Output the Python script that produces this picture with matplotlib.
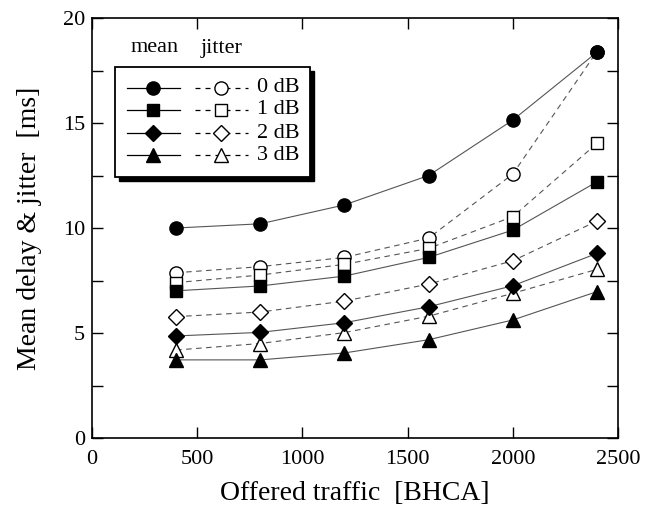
import matplotlib
matplotlib.use("Agg")
import matplotlib.pyplot as plt
from matplotlib.ticker import MultipleLocator
from matplotlib.patches import Rectangle
from matplotlib.lines import Line2D

plt.rcParams['font.family'] = ['Liberation Serif', 'DejaVu Serif']

traffic = [400, 800, 1200, 1600, 2000, 2400]
labels = ['0 dB', '1 dB', '2 dB', '3 dB']
mean_0 = [10.0, 10.2, 11.1, 12.5, 15.14, 18.37]
mean_1 = [7.01, 7.24, 7.71, 8.6, 9.9, 12.2]
mean_2 = [4.86, 5.03, 5.49, 6.25, 7.25, 8.79]
mean_3 = [3.72, 3.72, 4.05, 4.68, 5.62, 6.97]
jit_0 = [7.87, 8.16, 8.6, 9.52, 12.57, 18.4]
jit_1 = [7.4, 7.76, 8.27, 9.03, 10.54, 14.03]
jit_2 = [5.78, 6.0, 6.52, 7.33, 8.44, 10.33]
jit_3 = [4.19, 4.5, 5.02, 5.8, 6.89, 8.03]

means = [mean_0, mean_1, mean_2, mean_3]
jits = [jit_0, jit_1, jit_2, jit_3]
markers = ['o', 's', 'D', '^']
msizes = [9.5, 8.5, 8.0, 10.0]
line_col = '#555555'

fig = plt.figure(figsize=(6.56, 5.05), dpi=100)
ax = fig.add_axes([92/656, 67/505, 526/656, 420/505])

for m, j, mk, ms in zip(means, jits, markers, msizes):
    ax.plot(traffic, j, color=line_col, lw=0.8, ls=(0, (5, 4)), marker=mk,
            ms=ms, mfc='white', mec='black', mew=1.0, zorder=3)
    ax.plot(traffic, m, color=line_col, lw=0.8, ls='-', marker=mk,
            ms=ms, mfc='black', mec='black', mew=1.0, zorder=4)

ax.set_xlim(0, 2500)
ax.set_ylim(0, 20)
ax.xaxis.set_major_locator(MultipleLocator(500))
ax.yaxis.set_major_locator(MultipleLocator(5))
ax.yaxis.set_minor_locator(MultipleLocator(2.5))
ax.tick_params(which='both', direction='in', top=True, right=True,
               length=8, width=1.0, labelsize=16)
ax.tick_params(axis='x', pad=9)
ax.tick_params(axis='y', pad=5)
for s in ax.spines.values():
    s.set_linewidth(1.2)

ax.set_xlabel('Offered traffic  [BHCA]', fontsize=20, labelpad=8)
ax.set_ylabel('Mean delay & jitter  [ms]', fontsize=20, labelpad=15)

# legend drawn manually
def fx(px):
    return (px - 92) / 526
def fy(py):
    return (438 - py) / 420

tr = ax.transAxes
shadow = Rectangle((fx(119), fy(181)), fx(314) - fx(119), fy(71) - fy(181),
                   transform=tr, facecolor='black', edgecolor='black', zorder=9)
box = Rectangle((fx(115), fy(177)), fx(310) - fx(115), fy(67) - fy(177),
                transform=tr, facecolor='white', edgecolor='black', lw=1.3, zorder=10)
ax.add_patch(shadow)
ax.add_patch(box)
rows = [88, 110, 133, 155]
for r, mk, ms, lab in zip(rows, markers, msizes, labels):
    ax.add_line(Line2D([fx(127), fx(180)], [fy(r), fy(r)], transform=tr,
                       color='black', lw=0.9, zorder=11))
    ax.add_line(Line2D([fx(153)], [fy(r)], transform=tr, marker=mk, ms=ms,
                       mfc='black', mec='black', ls='none', zorder=12))
    ax.add_line(Line2D([fx(195), fx(248)], [fy(r), fy(r)], transform=tr,
                       color='black', lw=0.9, ls=(0, (4, 4)), zorder=11))
    ax.add_line(Line2D([fx(221)], [fy(r)], transform=tr, marker=mk, ms=ms,
                       mfc='white', mec='black', mew=1.0, ls='none', zorder=12))
    ax.text(fx(257), fy(r), lab, transform=tr, fontsize=16, va='center',
            ha='left', zorder=12)
ax.text(fx(155), fy(48), 'mean', transform=tr, fontsize=16, ha='center', va='center')
ax.text(fx(222), fy(48), 'jitter', transform=tr, fontsize=16, ha='center', va='center')

fig.savefig('out.png', dpi=100)
